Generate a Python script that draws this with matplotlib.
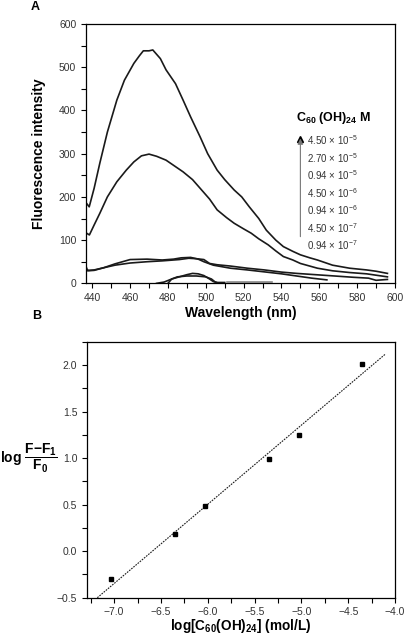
import numpy as np
import matplotlib.pyplot as plt
from matplotlib.ticker import MultipleLocator

plt.rcParams['font.family'] = ['Liberation Sans', 'DejaVu Sans']
plt.rcParams['mathtext.fontset'] = 'custom'
plt.rcParams['mathtext.rm'] = 'Liberation Sans'
plt.rcParams['mathtext.bf'] = 'Liberation Sans:bold'
plt.rcParams['mathtext.it'] = 'Liberation Sans:italic'

# panel A: emission spectra (wavelength nm, intensity)
wl_1 = [437, 438.4, 441, 444, 448, 453, 457, 462, 465, 467, 470, 472, 476, 479, 484, 488, 492, 497,
        501, 506, 510, 515, 519, 523, 528, 532, 537, 541, 546, 550, 555, 559, 567, 576, 585, 590, 596]
int_1 = [185, 177, 220, 278, 350, 424, 470, 509, 527, 538, 538, 540, 520, 494, 462, 424, 385, 339,
         300, 262, 240, 216, 200, 177, 150, 123, 100, 85, 74, 66, 59, 54, 42, 35, 31, 28, 23]
wl_2 = [437, 438.5, 441, 444, 448, 453, 458, 462, 466, 470, 474, 479, 484, 488, 493, 497, 502,
        506, 511, 515, 520, 524, 528, 533, 537, 541, 546, 550, 559, 567, 576, 585, 596]
int_2 = [116, 112, 135, 162, 200, 235, 262, 281, 295, 299, 294, 285, 270, 258, 240, 220, 195,
         170, 152, 139, 126, 116, 103, 89, 75, 62, 54, 46, 35, 29, 25, 22, 15]
wl_3 = [436.5, 437.5, 441, 446, 452, 460, 469, 477, 483, 487, 492, 496, 499, 504, 513, 522, 530,
        540, 548, 556, 564]
int_3 = [42, 29, 30, 36, 45, 55, 56, 54, 56, 59, 60, 56, 50, 42, 35, 31, 27, 22, 17, 12, 8]
wl_4 = [436.5, 438, 441, 446, 452, 460, 469, 477, 486, 491, 495, 499, 502, 506, 513, 522, 531,
        540, 548, 558, 568, 578, 586, 590, 596]
int_4 = [34, 30, 31, 36, 42, 47, 50, 52, 55, 58, 57, 55, 46, 43, 40, 35, 31, 26, 23, 20, 17, 14, 12, 7, 9]
wl_5 = [474, 478, 482, 486, 490, 493, 496, 499, 502, 504, 506, 510]
int_5 = [0, 3, 10, 15, 20, 23, 22, 18, 10, 4, 2, 2]
wl_6 = [480, 482, 485, 490, 495, 500, 503, 505, 507]
int_6 = [0, 10, 15, 17, 17, 15, 10, 3, 0]
wl_7 = [511, 535]
int_7 = [4, 4]

conc_labels = [r'4.50 $\times$ 10$^{-5}$', r'2.70 $\times$ 10$^{-5}$', r'0.94 $\times$ 10$^{-5}$',
               r'4.50 $\times$ 10$^{-6}$', r'0.94 $\times$ 10$^{-6}$', r'4.50 $\times$ 10$^{-7}$',
               r'0.94 $\times$ 10$^{-7}$']

# panel B: log plot
log_c = [-7.03, -6.35, -6.03, -5.35, -5.03, -4.35]
log_f = [-0.30, 0.18, 0.48, 0.99, 1.25, 2.01]
fit_x = [-7.18, -4.10]
fit_y = [-0.50, 2.12]

fig = plt.figure(figsize=(4.07, 6.39), dpi=100)
tick_col = '#333333'

# ---- panel A
ax1 = fig.add_axes([0.2113, 0.5566, 0.7592, 0.4058])
for wl, inten in [(wl_1, int_1), (wl_2, int_2), (wl_3, int_3), (wl_4, int_4), (wl_5, int_5), (wl_6, int_6)]:
    ax1.plot(wl, inten, color='#1a1a1a', lw=1.2)
ax1.plot(wl_7, int_7, color='#888888', lw=1.2)
ax1.set_xlim(436.7, 600)
ax1.set_ylim(0, 600)
ax1.xaxis.set_major_locator(MultipleLocator(20))
ax1.xaxis.set_minor_locator(MultipleLocator(10))
ax1.yaxis.set_major_locator(MultipleLocator(100))
ax1.yaxis.set_minor_locator(MultipleLocator(50))
ax1.set_xlabel('Wavelength (nm)', fontsize=10, fontweight='bold', labelpad=2)
ax1.set_ylabel('Fluorescence intensity', fontsize=10, fontweight='bold', labelpad=9)

# concentration legend with arrow
ax1.annotate('', xy=(550, 335), xytext=(550, 108),
             arrowprops=dict(arrowstyle='-|>', color='#777777', lw=0.8, mutation_scale=8,
                             shrinkA=0, shrinkB=0))
ax1.plot([550], [335], marker='^', color='black', ms=4)
ax1.text(547.5, 382, r'$\mathbf{C_{60}}$ $\mathbf{(OH)_{24}}$ $\mathbf{M}$', fontsize=9,
         va='center', ha='left')
for i, lab in enumerate(conc_labels):
    ax1.text(553.5, 331 - i * 40.5, lab, fontsize=7, color=tick_col, va='center', ha='left')

# ---- panel B
ax2 = fig.add_axes([0.2138, 0.0646, 0.7568, 0.4006])
ax2.plot(fit_x, fit_y, color='#1a1a1a', lw=0.8, ls=(0, (1.5, 1)))
ax2.plot(log_c, log_f, 's', color='black', ms=3.5)
ax2.set_xlim(-7.29, -4.0)
ax2.set_ylim(-0.5, 2.25)
ax2.xaxis.set_major_locator(MultipleLocator(0.5))
ax2.xaxis.set_minor_locator(MultipleLocator(0.25))
ax2.yaxis.set_major_locator(MultipleLocator(0.5))
ax2.yaxis.set_minor_locator(MultipleLocator(0.25))
ax2.xaxis.set_major_formatter(plt.FuncFormatter(lambda v, p: f'{v:.1f}'.replace('-', '\u2212')))
ax2.yaxis.set_major_formatter(plt.FuncFormatter(lambda v, p: f'{v:.1f}'.replace('-', '\u2212')))
ax2.set_xlabel(r'$\mathbf{log[C_{60}(OH)_{24}]}$ $\mathbf{(mol/L)}$', fontsize=9.8, labelpad=0)
fig.text(0.0, 0.283, r'$\mathbf{log}$ $\mathbf{\dfrac{F{-}F_1}{F_0}}$', fontsize=10,
         va='center', ha='left')

for ax in (ax1, ax2):
    ax.tick_params(which='both', direction='out', top=False, right=False, labelsize=7.5,
                   labelcolor=tick_col, width=0.8)
    ax.tick_params(which='major', length=3.5)
    ax.tick_params(which='minor', length=3.5)
    for s in ax.spines.values():
        s.set_linewidth(0.9)

fig.text(0.075, 0.998, 'A', fontsize=9, fontweight='bold', va='top')
fig.text(0.08, 0.515, 'B', fontsize=9, fontweight='bold', va='top')

fig.savefig('out.png', dpi=100)
